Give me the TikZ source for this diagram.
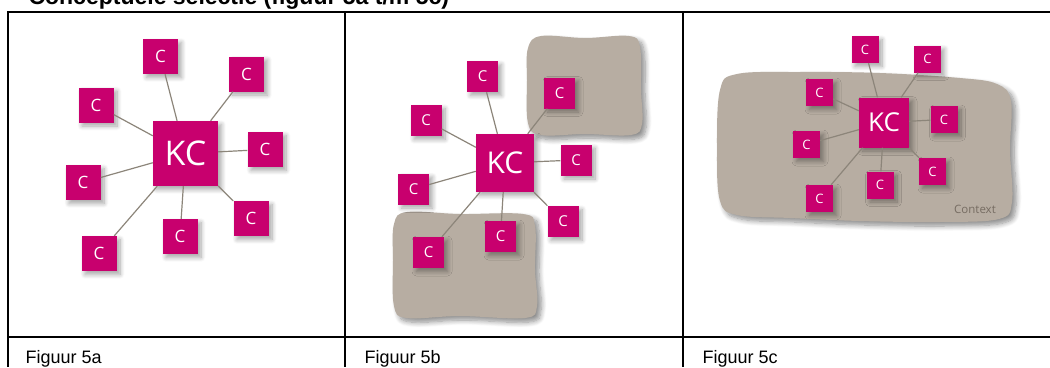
\documentclass[tikz,border=0pt]{standalone}
\usepackage{fontspec}
\setmainfont{Liberation Sans}
\newfontfamily\boxfont{Open Sans}
\usepackage{tikz}
\usetikzlibrary{shadows, shadows.blur, positioning}
\definecolor{kcpink}{RGB}{200,0,110}
\definecolor{ctxgray}{RGB}{183,173,162}
\definecolor{linkgray}{RGB}{140,133,122}
\definecolor{ctxtext}{RGB}{118,108,98}

\begin{document}
\begin{tikzpicture}[
x=1pt, y=-1pt,
    conc/.style={rectangle, fill=kcpink, text=white, inner sep=0pt, blur shadow={shadow xshift=3.5pt, shadow yshift=-3.5pt, shadow blur steps=8, shadow blur radius=4.5pt, shadow opacity=35}},
    kc/.style n args={2}{conc, minimum size=#1pt, font=\boxfont\fontsize{#2pt}{#2pt}\selectfont},
    cbox/.style n args={2}{conc, minimum size=#1pt, font=\boxfont\fontsize{#2pt}{#2pt}\selectfont},
    blob/.style={fill=ctxgray, blur shadow={shadow xshift=4pt, shadow yshift=-4pt, shadow blur steps=8, shadow blur radius=5pt, shadow opacity=45}},
    link/.style={draw=linkgray, line width=1.2pt},
    rule/.style={draw, line width=2pt},
    caption/.style={anchor=base west, font=\fontsize{18pt}{18pt}\selectfont}
]
    \useasboundingbox (0,0) rectangle (1050,367);

    % ================= TABLE =================
    \node[anchor=base west, font=\bfseries\fontsize{23pt}{23pt}\selectfont] (title) at (25,4) {Conceptuele selectie (figuur 5a t/m 5c)};
    \draw[rule] (8,12) -- (1050,12);
    \draw[rule] (8,337) -- (1050,337);
    \draw[rule] (8,11) -- (8,367);
    \draw[rule] (345,11) -- (345,367);
    \draw[rule] (683,11) -- (683,367);

    \node[caption] (cap_a) at (22,363) {Figuur 5a};
    \node[caption] (cap_b) at (361,363) {Figuur 5b};
    \node[caption] (cap_c) at (699,363) {Figuur 5c};

    % ================= CONTEXTS =================
    \path[blob] plot[smooth cycle, tension=0.6] coordinates {(541,36) (585,38) (629,36) (640,47) (641,90) (642,124) (631,135) (585,134) (541,135) (528,123) (527,80) (528,48)};
    \path[blob] plot[smooth cycle, tension=0.6] coordinates {(407,212) (460,214) (523,214) (535,226) (535,270) (537,306) (525,318) (460,316) (407,318) (394,306) (393,260) (394,224)};
    \path[blob] plot[smooth cycle, tension=0.6] coordinates {(737,74) (800,72) (880,73) (960,78) (997,84) (1011,101) (1010,150) (1012,202) (999,219) (940,222) (860,221) (790,218) (737,215) (720,201) (717,150) (720,90)};
    \node[font=\boxfont\fontsize{11.5pt}{11.5pt}\selectfont, text=ctxtext] (ctx) at (975,209) {Context};

    % ================= FIGUUR 5a =================
    \node[kc={65}{34}] (a_kc) at (185.5,153.5) {KC};
    \node[cbox={35}{17}] (a_n) at (160.5,56.5) {C};
    \node[cbox={35}{17}] (a_ne) at (246.5,74) {C};
    \node[cbox={35}{17}] (a_nw) at (96,105) {C};
    \node[cbox={35}{17}] (a_e) at (265,149.5) {C};
    \node[cbox={35}{17}] (a_w) at (83,182.5) {C};
    \node[cbox={35}{17}] (a_se) at (251,218.5) {C};
    \node[cbox={35}{17}] (a_s) at (180,236.5) {C};
    \node[cbox={35}{17}] (a_sw) at (99,253.5) {C};

    % ================= FIGUUR 5b =================
    \node[kc={58}{30}] (b_kc) at (505,163) {KC};
    \node[cbox={31}{15}] (b_n) at (482.5,76.5) {C};
    \node[cbox={31}{15}] (b_ne) at (559.5,93) {C};
    \node[cbox={31}{15}] (b_nw) at (426,120.5) {C};
    \node[cbox={31}{15}] (b_e) at (576,160) {C};
    \node[cbox={31}{15}] (b_w) at (413.5,189) {C};
    \node[cbox={31}{15}] (b_se) at (563,221.5) {C};
    \node[cbox={31}{15}] (b_s) at (500.5,236.5) {C};
    \node[cbox={31}{15}] (b_sw) at (428.5,252.5) {C};

    % ================= FIGUUR 5c =================
    \node[kc={50}{26}] (c_kc) at (884,122.5) {KC};
    \node[cbox={27}{13}] (c_n) at (865,49.5) {C};
    \node[cbox={27}{13}] (c_ne) at (927.5,59) {C};
    \node[cbox={27}{13}] (c_nw) at (819.5,92.5) {C};
    \node[cbox={27}{13}] (c_e) at (944,119.5) {C};
    \node[cbox={27}{13}] (c_w) at (806.5,144.5) {C};
    \node[cbox={27}{13}] (c_se) at (932.5,171.5) {C};
    \node[cbox={27}{13}] (c_s) at (880,185) {C};
    \node[cbox={27}{13}] (c_sw) at (819.5,198.5) {C};

    % ================= LINKS =================
    \draw[link] (a_kc) -- (a_n);
    \draw[link] (a_kc) -- (a_ne);
    \draw[link] (a_kc) -- (a_nw);
    \draw[link] (a_kc) -- (a_e);
    \draw[link] (a_kc) -- (a_w);
    \draw[link] (a_kc) -- (a_se);
    \draw[link] (a_kc) -- (a_s);
    \draw[link] (a_kc) -- (a_sw);

    \draw[link] (b_kc) -- (b_n);
    \draw[link] (b_kc) -- (b_ne);
    \draw[link] (b_kc) -- (b_nw);
    \draw[link] (b_kc) -- (b_e);
    \draw[link] (b_kc) -- (b_w);
    \draw[link] (b_kc) -- (b_se);
    \draw[link] (b_kc) -- (b_s);
    \draw[link] (b_kc) -- (b_sw);

    \draw[link] (c_kc) -- (c_n);
    \draw[link] (c_kc) -- (c_ne);
    \draw[link] (c_kc) -- (c_nw);
    \draw[link] (c_kc) -- (c_e);
    \draw[link] (c_kc) -- (c_w);
    \draw[link] (c_kc) -- (c_se);
    \draw[link] (c_kc) -- (c_s);
    \draw[link] (c_kc) -- (c_sw);

\end{tikzpicture}
\end{document}
